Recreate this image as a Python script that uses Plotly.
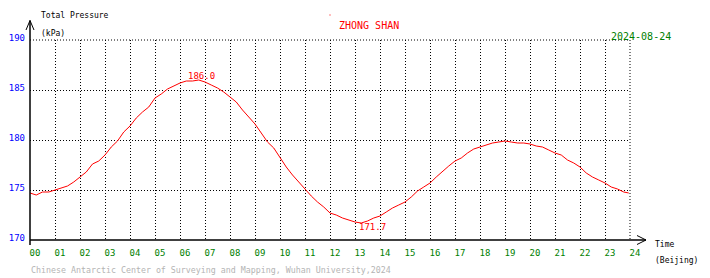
import plotly.graph_objects as go

# ---- data ----
hours = [0, 0.25, 0.5, 0.75, 1.0, 1.25, 1.5, 1.75, 2.0, 2.25, 2.5, 2.75, 3.0, 3.25, 3.5, 3.75,
         4.0, 4.25, 4.5, 4.75, 5.0, 5.25, 5.5, 5.75, 6.0, 6.25, 6.5, 6.75, 7.0, 7.25, 7.5, 7.75,
         8.0, 8.25, 8.5, 8.75, 9.0, 9.25, 9.5, 9.75, 10.0, 10.25, 10.5, 10.75, 11.0, 11.25, 11.5, 11.75,
         12.0, 12.25, 12.5, 12.75, 13.0, 13.25, 13.5, 13.75, 14.0, 14.25, 14.5, 14.75, 15.0, 15.25, 15.5, 15.75,
         16.0, 16.25, 16.5, 16.75, 17.0, 17.25, 17.5, 17.75, 18.0, 18.25, 18.5, 18.75, 19.0, 19.25, 19.5, 19.75,
         20.0, 20.25, 20.5, 20.75, 21.0, 21.25, 21.5, 21.75, 22.0, 22.25, 22.5, 22.75, 23.0, 23.25, 23.5, 23.75, 23.95]
pressure = [174.7, 174.5, 174.8, 174.8, 175.0, 175.2, 175.4, 175.8, 176.3, 176.8, 177.6, 177.9, 178.5, 179.3, 179.9, 180.8,
            181.4, 182.2, 182.8, 183.3, 184.2, 184.6, 185.1, 185.4, 185.7, 185.9, 185.9, 186.0, 185.8, 185.5, 185.2, 184.8,
            184.3, 183.8, 183.0, 182.3, 181.6, 180.7, 179.8, 179.2, 178.2, 177.3, 176.5, 175.8, 175.0, 174.4, 173.8, 173.3,
            172.7, 172.5, 172.2, 172.0, 171.8, 171.7, 171.9, 172.2, 172.4, 172.8, 173.2, 173.5, 173.8, 174.3, 174.9, 175.3,
            175.7, 176.3, 176.9, 177.4, 177.9, 178.2, 178.7, 179.1, 179.3, 179.5, 179.7, 179.8, 179.9, 179.8, 179.7, 179.7,
            179.6, 179.4, 179.3, 179.0, 178.7, 178.5, 178.0, 177.7, 177.3, 176.7, 176.3, 176.0, 175.7, 175.3, 175.1, 174.8, 174.7]

x_ticks = list(range(0, 25))
x_tick_labels = ["%02d" % h for h in x_ticks]
y_ticks = [170, 175, 180, 185, 190]
y_tick_labels = ["170", "175", "180", "185", "190"]

max_label = "186.0"
min_label = "171.7"
title_text = "ZHONG SHAN"
date_text = "2024-08-24"
footer_text = "Chinese Antarctic Center of Surveying and Mapping, Wuhan University,2024"

FONT = "DejaVu Sans Mono"
W, H = 710, 278
L, R, T, B = 30, 630, 40, 240


def px(x):
    return (x - L) / (R - L)


def py(y):
    return (B - y) / (B - T)


fig = go.Figure()
fig.add_trace(go.Scatter(x=hours, y=pressure, mode="lines",
                         line=dict(color="#ff0000", width=1), hoverinfo="skip",
                         showlegend=False))

shapes = []


def seg(x0, y0, x1, y1, color="black", width=1.5, dash="solid"):
    shapes.append(dict(type="line", xref="paper", yref="paper",
                       x0=px(x0), y0=py(y0), x1=px(x1), y1=py(y1),
                       line=dict(color=color, width=width, dash=dash)))


# dotted frame lines at the top and right edges
seg(30, 40, 630, 40, width=1, dash="1px,2px")
seg(630, 40, 630, 240, width=1, dash="1px,2px")
# axes lines with arrows
seg(30, 245, 30, 20.5)
seg(30, 20.5, 26, 30, width=1)
seg(30, 20.5, 34, 30, width=1)
seg(30, 240, 646, 240)
seg(646, 240, 637, 235.5, width=1)
seg(646, 240, 637, 244.5, width=1)
# tiny red dot near title
shapes.append(dict(type="rect", xref="paper", yref="paper",
                   x0=px(329.5), y0=py(15.5), x1=px(330.5), y1=py(14.5),
                   line=dict(width=0), fillcolor="#ff0000"))

annotations = []


def txt(text, x, y, color, size, xanchor="left"):
    annotations.append(dict(text=text, xref="paper", yref="paper", x=px(x), y=py(y),
                            xanchor=xanchor, yanchor="middle", showarrow=False,
                            font=dict(family=FONT, size=size, color=color)))


txt("Total Pressure", 39, 16, "black", 8)
txt("(kPa)", 39, 34, "black", 8)
txt(title_text, 369, 25, "#ff0000", 10, "center")
txt(date_text, 641, 36.5, "#008000", 10, "center")
txt("Time", 653, 244, "black", 8)
txt("(Beijing)", 653, 260, "black", 8)
txt(footer_text, 29, 270, "#b4b4b4", 8.3)

annotations.append(dict(text=max_label, x=6.84, y=186.4, xref="x", yref="y",
                        showarrow=False, xanchor="center", yanchor="middle",
                        font=dict(family=FONT, size=9, color="#ff0000")))
annotations.append(dict(text=min_label, x=13.68, y=171.3, xref="x", yref="y",
                        showarrow=False, xanchor="center", yanchor="middle",
                        font=dict(family=FONT, size=9, color="#ff0000")))

fig.update_layout(
    width=W, height=H, autosize=False,
    margin=dict(l=L, r=W - R, t=T, b=H - B, pad=0, autoexpand=False),
    paper_bgcolor="white", plot_bgcolor="white",
    shapes=shapes, annotations=annotations,
    xaxis=dict(range=[0, 24], tickmode="array", tickvals=x_ticks, ticktext=x_tick_labels,
               showgrid=True, gridcolor="black", gridwidth=1, griddash="1px,2px",
               zeroline=False, showline=False, ticks="", ticklabelshift=5,
               ticklabelstandoff=6, automargin=False,
               tickfont=dict(family=FONT, size=9, color="#008000"), fixedrange=True),
    yaxis=dict(range=[170, 190], tickmode="array", tickvals=y_ticks, ticktext=y_tick_labels,
               showgrid=True, gridcolor="black", gridwidth=1, griddash="1px,2px",
               zeroline=False, showline=False, ticks="", ticklabelshift=-2,
               ticklabelstandoff=4, automargin=False,
               tickfont=dict(family=FONT, size=9, color="#0000ff"), fixedrange=True),
)

fig.write_html("out.html", config={"displayModeBar": False})
